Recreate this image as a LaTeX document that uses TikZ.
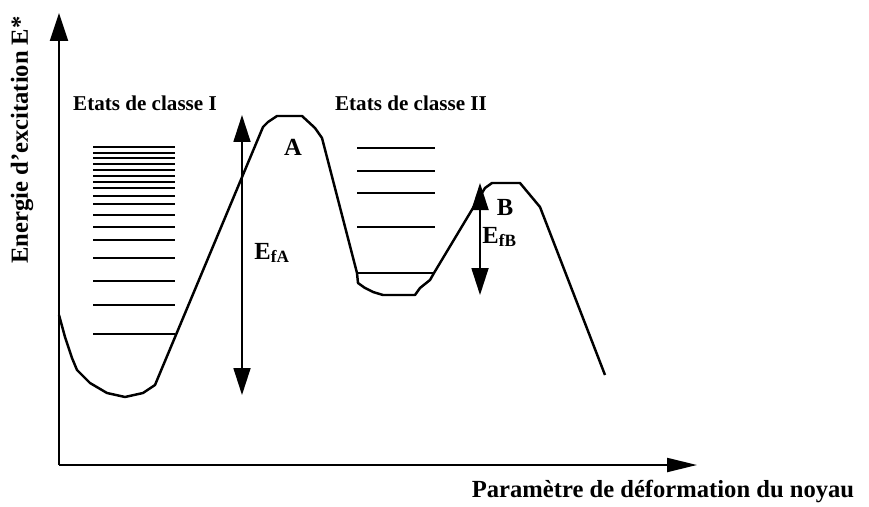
\documentclass[tikz,border=0pt]{standalone}
\usepackage{fontspec}
\setmainfont{Liberation Serif}
\usepackage{tikz}
\usetikzlibrary{arrows.meta}
\newcommand{\lbl}[1]{\fontsize{#1}{#1}\selectfont\bfseries}

\begin{document}
\begin{tikzpicture}[x=0.2mm,y=-0.2mm,
   axis/.style={line width=1.2pt,-{Triangle[length=5.6mm,width=3.6mm]}},
   xaxis/.style={line width=1.2pt,-{Triangle[length=6mm,width=2.8mm]}},
   well/.style={line width=1.4pt,line join=round},
   lev/.style={line width=1.6pt},
   thinlev/.style={line width=0.9pt},
   barr/.style={line width=1pt,{Triangle[length=5.4mm,width=3.4mm]}-{Triangle[length=5.4mm,width=3.4mm]}}]
\useasboundingbox (0,0) rectangle (869,506);

% axes
\coordinate (origin) at (59,465);
\coordinate (ytip) at (59,13);
\coordinate (xtip) at (697,465);
\draw[axis] (origin) -- (ytip);
\draw[xaxis] (origin) -- (xtip);
\node[rotate=90,font=\lbl{14}] (elabel) at (22,140) {Energie d'excitation E*};
\node[anchor=base,font=\lbl{14}] (plabel) at (663,497) {Paramètre de déformation du noyau};

% double well
\draw[well] (59,315) -- (65,337) -- (72,358) -- (77,370) -- (90,383) -- (107,393)
  -- (125,397) -- (143,393) -- (155,385) -- (160,373)
  -- (263,127) -- (268,122) -- (277,116) -- (302,116) -- (315,128) -- (322,138)
  -- (357,273) -- (358,283) -- (365,288) -- (373,292) -- (383,295) -- (415,295)
  -- (420,288) -- (430,280) -- (434,273)
  -- (485,188) -- (492,183) -- (520,183) -- (530,195) -- (540,207) -- (605,375);

% levels
\foreach \y in {147,153,158,164,170,176,182,188,196,204,215,227,240,258,281,305,334}
  \draw[lev] (93,\y) -- (175,\y);
\foreach \y in {148,171,193,227}
  \draw[lev] (357,\y) -- (435,\y);
\draw[thinlev] (357,273) -- (434,273);

\node[font=\lbl{12}] (cI) at (145,103) {Etats de classe I};
\node[font=\lbl{12}] (cII) at (411,103) {Etats de classe II};

% barriers
\coordinate (atop) at (242,115);
\coordinate (abot) at (242,395);
\draw[barr] (abot) -- (atop);
\coordinate (btop) at (480,183);
\coordinate (bbot) at (480,295);
\draw[barr] (bbot) -- (btop);

\node[font=\lbl{14}] (A) at (293,147) {A};
\node[font=\lbl{14}] (B) at (505,207) {B};
\node[anchor=west,inner sep=0pt,font=\lbl{14}] (efa) at (254,253) {E\textsubscript{fA}};
\node[anchor=west,inner sep=0pt,font=\lbl{14}] (efb) at (482,237) {E\textsubscript{fB}};
\end{tikzpicture}
\end{document}
